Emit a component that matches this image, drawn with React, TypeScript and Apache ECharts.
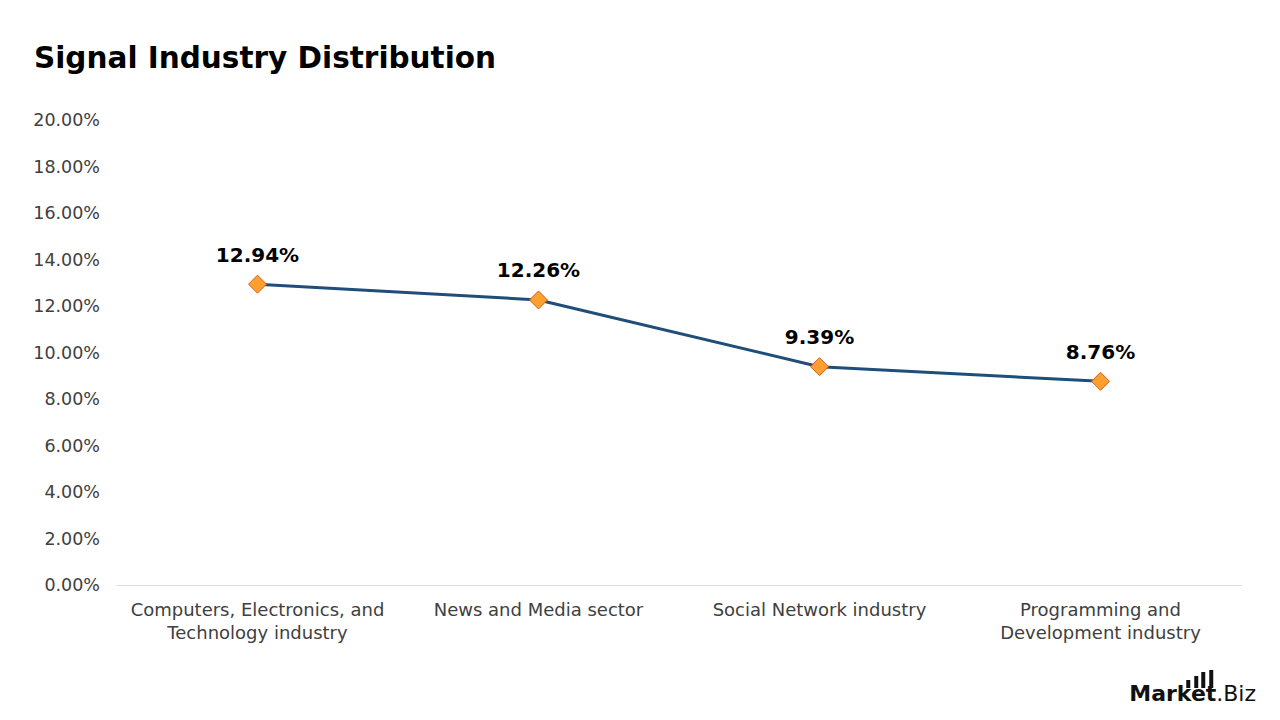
import React, { useEffect, useRef } from "react";
import * as echarts from "echarts";

const categories = [
  "Computers, Electronics, and\nTechnology industry",
  "News and Media sector",
  "Social Network industry",
  "Programming and\nDevelopment industry",
];
const shares = [12.94, 12.26, 9.39, 8.76];
const yTicks = { min: 0, max: 20, interval: 2 };

const FONT = "'DejaVu Sans', 'Open Sans', sans-serif";

export default function App() {
  const ref = useRef<HTMLDivElement>(null);
  useEffect(() => {
    if (!ref.current) return;
    const chart = echarts.init(ref.current, null, { renderer: "svg" });
    chart.setOption({
      animation: false,
      backgroundColor: "#ffffff",
      title: {
        text: "Signal Industry Distribution",
        left: 29,
        top: 38,
        textStyle: { fontFamily: FONT, fontWeight: "bold", fontSize: 29.5, color: "#000000" },
      },
      grid: { left: 117, right: 39, top: 120, bottom: 135 },
      xAxis: {
        type: "category",
        data: categories,
        axisLine: { lineStyle: { color: "#d9d9d9", width: 1 } },
        axisTick: { show: false },
        axisLabel: {
          fontFamily: FONT,
          fontSize: 18,
          color: "#404040",
          margin: 13,
          lineHeight: 23,
          interval: 0,
        },
      },
      yAxis: {
        type: "value",
        min: yTicks.min,
        max: yTicks.max,
        interval: yTicks.interval,
        splitLine: { show: false },
        axisLine: { show: false },
        axisTick: { show: false },
        axisLabel: {
          fontFamily: FONT,
          fontSize: 17.5,
          color: "#404040",
          margin: 17,
          formatter: (v: number) => v.toFixed(2) + "%",
        },
      },
      series: [
        {
          type: "line",
          data: shares,
          lineStyle: { color: "#1F4E79", width: 3 },
          symbol: "diamond",
          symbolSize: 18,
          itemStyle: { color: "#FF9F2F", borderColor: "#D35F1A", borderWidth: 1 },
          label: {
            show: true,
            position: "top",
            distance: 10,
            fontFamily: FONT,
            fontWeight: "bold",
            fontSize: 20,
            color: "#000000",
            formatter: (p: any) => p.value.toFixed(2) + "%",
          },
        },
      ],
      graphic: [
        {
          type: "group",
          right: 24,
          bottom: 16,
          children: [
            { type: "rect", shape: { x: 57, y: 10, width: 4, height: 8 }, style: { fill: "#111" } },
            { type: "rect", shape: { x: 65, y: 6, width: 4, height: 12 }, style: { fill: "#111" } },
            { type: "rect", shape: { x: 72, y: 2, width: 4, height: 16 }, style: { fill: "#111" } },
            { type: "rect", shape: { x: 80, y: 0, width: 4, height: 18 }, style: { fill: "#111" } },
            {
              type: "text",
              x: 0,
              y: 12,
              style: {
                text: "Market",
                font: "bold 22px 'DejaVu Sans', sans-serif",
                fill: "#111",
              },
            },
            {
              type: "text",
              x: 87,
              y: 12,
              style: {
                text: ".Biz",
                font: "22px 'DejaVu Sans', sans-serif",
                fill: "#111",
              },
            },
          ],
        },
      ],
    });
    return () => chart.dispose();
  }, []);
  return <div ref={ref} style={{ width: 1280, height: 720, position: "fixed", left: 0, top: 0 }} />;
}
